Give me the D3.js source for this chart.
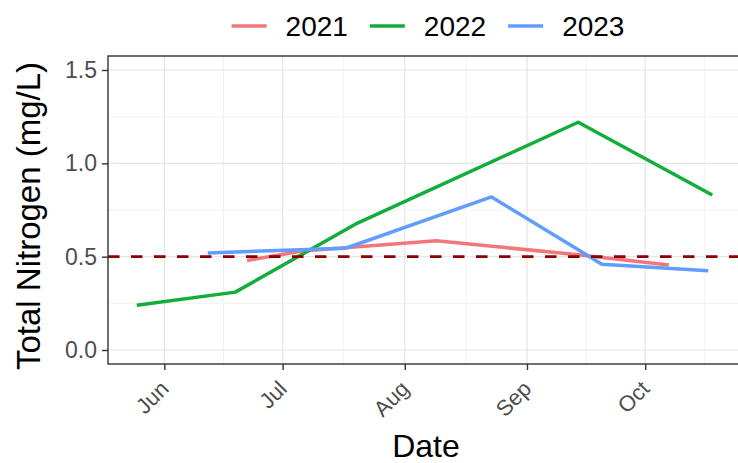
<!DOCTYPE html>
<html>
<head>
<meta charset="utf-8">
<script src="https://cdn.jsdelivr.net/npm/d3@7"></script>
<style>
  html, body { margin: 0; padding: 0; background: #fff; }
  svg { display: block; font-family: "Liberation Sans", Arial, Helvetica, sans-serif; }
</style>
</head>
<body>
<svg id="chart" width="738" height="463"></svg>
<script>
// Sampling years shown as separate series on a shared calendar axis
const categories = ["2021", "2022", "2023"];
const colors = ["#F1777A", "#13AD3B", "#619CFF"];

// Sampling dates (month-day) and total nitrogen (mg/L) for each year
const dates2021 = ["06-22", "07-06", "08-09", "09-14", "10-07"];
const values2021 = [0.48, 0.53, 0.585, 0.51, 0.455];

const dates2022 = ["05-25", "06-19", "07-20", "09-14", "10-18"];
const values2022 = [0.24, 0.31, 0.68, 1.22, 0.83];

const dates2023 = ["06-12", "07-17", "08-23", "09-20", "10-17"];
const values2023 = [0.52, 0.545, 0.82, 0.46, 0.425];

// Reference threshold
const threshold = 0.5;

// Axis ticks
const monthTicks = ["06-01", "07-01", "08-01", "09-01", "10-01"];
const monthLabels = ["Jun", "Jul", "Aug", "Sep", "Oct"];
const yTicks = [0.0, 0.5, 1.0, 1.5];
const yTickLabels = ["0.0", "0.5", "1.0", "1.5"];
const yMinor = [0.25, 0.75, 1.25];

const parse = md => d3.timeParse("%Y-%m-%d")("2000-" + md);

const seriesDates = [dates2021, dates2022, dates2023];
const seriesValues = [values2021, values2022, values2023];
const series = categories.map((c, i) => ({
  name: c,
  color: colors[i],
  points: seriesDates[i].map((d, j) => ({ date: parse(d), value: seriesValues[i][j] }))
}));

const svg = d3.select("#chart");
const panel = { left: 108, right: 741, top: 56, bottom: 364 };

// x: data range expanded by 5% on each side
const allDates = series.flatMap(s => s.points.map(p => +p.date));
const dMin = d3.min(allDates), dMax = d3.max(allDates);
const pad = (dMax - dMin) * 0.05;
const x = d3.scaleTime()
  .domain([new Date(dMin - pad), new Date(dMax + pad)])
  .range([panel.left, panel.right]);

// y: limits 0..1.5 expanded by 5%
const y = d3.scaleLinear()
  .domain([-0.075, 1.575])
  .range([panel.bottom, panel.top]);

const tickDates = monthTicks.map(parse);
const minorDates = [];
for (let i = 0; i < tickDates.length - 1; i++) {
  minorDates.push(new Date((+tickDates[i] + +tickDates[i + 1]) / 2));
}
minorDates.unshift(new Date(2 * +tickDates[0] - +minorDates[0]));
minorDates.push(new Date(2 * +tickDates[tickDates.length - 1] - +minorDates[minorDates.length - 1]));

// Panel background
svg.append("rect")
  .attr("x", panel.left).attr("y", panel.top)
  .attr("width", panel.right - panel.left).attr("height", panel.bottom - panel.top)
  .attr("fill", "#fff");

svg.append("clipPath").attr("id", "panel-clip")
  .append("rect")
  .attr("x", panel.left).attr("y", panel.top)
  .attr("width", panel.right - panel.left).attr("height", panel.bottom - panel.top);

const grid = svg.append("g").attr("clip-path", "url(#panel-clip)");

// Minor grid
grid.selectAll(".xminor").data(minorDates).join("line")
  .attr("x1", d => x(d)).attr("x2", d => x(d))
  .attr("y1", panel.top).attr("y2", panel.bottom)
  .attr("stroke", "#F2F2F2").attr("stroke-width", 1);
grid.selectAll(".yminor").data(yMinor).join("line")
  .attr("x1", panel.left).attr("x2", panel.right)
  .attr("y1", d => y(d)).attr("y2", d => y(d))
  .attr("stroke", "#F2F2F2").attr("stroke-width", 1);

// Major grid
grid.selectAll(".xmajor").data(tickDates).join("line")
  .attr("x1", d => x(d)).attr("x2", d => x(d))
  .attr("y1", panel.top).attr("y2", panel.bottom)
  .attr("stroke", "#E6E6E6").attr("stroke-width", 1.2);
grid.selectAll(".ymajor").data(yTicks).join("line")
  .attr("x1", panel.left).attr("x2", panel.right)
  .attr("y1", d => y(d)).attr("y2", d => y(d))
  .attr("stroke", "#E6E6E6").attr("stroke-width", 1.2);

// Series lines
const line = d3.line().x(d => x(d.date)).y(d => y(d.value));
const plot = svg.append("g").attr("clip-path", "url(#panel-clip)");
plot.selectAll(".series").data(series).join("path")
  .attr("d", d => line(d.points))
  .attr("fill", "none")
  .attr("stroke", d => d.color)
  .attr("stroke-width", 3.5)
  .attr("stroke-linejoin", "round");

// Threshold
plot.append("line")
  .attr("x1", panel.left).attr("x2", panel.right)
  .attr("y1", y(threshold)).attr("y2", y(threshold))
  .attr("stroke", "#8B0000").attr("stroke-width", 2.6)
  .attr("stroke-dasharray", "11.5,11.5");

// Panel border
svg.append("rect")
  .attr("x", panel.left).attr("y", panel.top)
  .attr("width", panel.right - panel.left).attr("height", panel.bottom - panel.top)
  .attr("fill", "none").attr("stroke", "#333").attr("stroke-width", 1.4);

// Axes
const xAxis = d3.axisBottom(x).tickValues(tickDates)
  .tickFormat((d, i) => monthLabels[i]).tickSize(6).tickPadding(4);
const gx = svg.append("g").attr("transform", `translate(0,${panel.bottom})`).call(xAxis);
gx.select(".domain").remove();
gx.selectAll(".tick line").attr("stroke", "#333").attr("stroke-width", 1.4);
gx.selectAll(".tick text")
  .attr("fill", "#4D4D4D").attr("font-size", 22)
  .attr("text-anchor", "end")
  .attr("transform", "translate(-6,15) rotate(-45)")
  .attr("dy", "0.72em").attr("y", 0).attr("x", 0);

const yAxis = d3.axisLeft(y).tickValues(yTicks)
  .tickFormat((d, i) => yTickLabels[i]).tickSize(6).tickPadding(5);
const gy = svg.append("g").attr("transform", `translate(${panel.left},0)`).call(yAxis);
gy.select(".domain").remove();
gy.selectAll(".tick line").attr("stroke", "#333").attr("stroke-width", 1.4);
gy.selectAll(".tick text").attr("fill", "#4D4D4D").attr("font-size", 23);

// Axis titles
svg.append("text")
  .attr("x", 426).attr("y", 457)
  .attr("text-anchor", "middle").attr("font-size", 32).attr("fill", "#000")
  .text("Date");
svg.append("text")
  .attr("transform", `translate(40,216) rotate(-90)`)
  .attr("text-anchor", "middle").attr("font-size", 33).attr("fill", "#000")
  .text("Total Nitrogen (mg/L)");

// Legend
const legend = svg.append("g");
let lx = 0;
series.forEach(s => {
  const g = legend.append("g").attr("transform", `translate(${lx},0)`);
  g.append("line").attr("x1", 0).attr("x2", 35).attr("y1", 0).attr("y2", 0)
    .attr("stroke", s.color).attr("stroke-width", 3.5);
  const t = g.append("text").attr("x", 54).attr("y", 0).attr("dy", "0.36em")
    .attr("font-size", 28).attr("fill", "#000").text(s.name);
  lx += 54 + t.node().getComputedTextLength() + 22;
});
const legendWidth = lx - 22;
legend.attr("transform", `translate(${428 - legendWidth / 2},26)`);
</script>
</body>
</html>
